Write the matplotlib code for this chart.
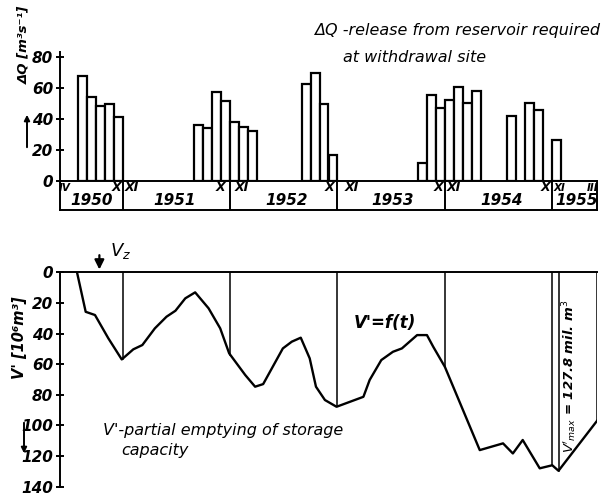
import matplotlib
matplotlib.use('Agg')
import matplotlib.pyplot as plt
import numpy as np

# month index t: 0 = start of April 1950 (one unit = one month)
bar_t = [2, 3, 4, 5, 6,
         15, 16, 17, 18, 19, 20, 21,
         27, 28, 29, 30,
         40, 41, 42, 43, 44, 45, 46,
         50, 52, 53, 55]
bar_q = [67.7, 54.1, 48.3, 49.4, 41.4,
         36.2, 34.3, 57.6, 51.7, 38.0, 34.5, 32.1,
         62.4, 69.5, 49.6, 16.8,
         11.6, 55.4, 46.8, 52.2, 60.4, 50.0, 58.2,
         42.0, 50.0, 45.7, 26.3]

curve_t = [1.9, 2.87, 3.91, 5.4, 6.9, 8.19, 9.2, 10.6, 11.9, 12.9, 14.0, 15.1,
           16.6, 17.9, 18.9, 20.7, 21.8, 22.7, 24.9, 25.9, 26.9, 27.9, 28.6,
           29.6, 30.9, 33.9, 34.6, 35.9, 37.2, 38.2, 39.9, 41.0, 41.7, 43.0,
           46.9, 49.5, 50.6, 51.7, 53.6, 55.0, 55.7, 60.0]
curve_v = [0, 25.8, 27.9, 43.1, 56.9, 50.3, 47.5, 36.6, 29.0, 25.1, 17.0, 13.1,
           23.5, 36.6, 52.9, 67.1, 74.7, 73.0, 49.7, 45.3, 42.7, 56.2, 74.7,
           83.4, 87.8, 81.3, 70.3, 57.3, 51.9, 49.7, 41.0, 41.0, 48.6, 61.7,
           116.1, 111.7, 118.3, 109.5, 128.0, 126.0, 129.6, 97.0]

year_bounds = [7, 19, 31, 43, 55]
t_end = 60
t_vmax = 55.7
year_labels = ['1950', '1951', '1952', '1953', '1954', '1955']
year_label_t = [3.5, 12.85, 25.3, 37.2, 49.3, 57.7]
month_labels = ['IV', 'X', 'XI', 'X', 'XI', 'X', 'XI', 'X', 'XI', 'X', 'XI', 'III']
month_label_t = [0.55, 6.3, 8.0, 17.9, 20.3, 30.1, 32.6, 42.3, 44.0, 54.2, 55.8, 59.5]
q_ticks = [0, 20, 40, 60, 80]
v_ticks = [0, 20, 40, 60, 80, 100, 120, 140]

W, H = 607, 495
fig = plt.figure(figsize=(W / 100, H / 100), dpi=100)

def fx(px):
    return px / W

def fy(py):
    return 1 - py / H

LW = 1.4
tick_font = dict(family='DejaVu Sans', style='italic', weight='bold', size=11)
text_font = dict(family='DejaVu Sans', style='italic', size=11.5)

left = fx(60)
width = fx(597) - fx(60)

# ---------- top: release bars ----------
ax1 = fig.add_axes([left, fy(180.7), width, (180.7 - 51.7) / H])
ax1.bar(bar_t, bar_q, width=1.0, align='edge', facecolor='white',
        edgecolor='black', linewidth=1.6)
ax1.set_xlim(0, t_end)
ax1.set_ylim(0, 83.4)
for s in ['top', 'right', 'bottom']:
    ax1.spines[s].set_visible(False)
ax1.spines['left'].set_linewidth(LW)
ax1.set_xticks([])
ax1.set_yticks(q_ticks)
ax1.set_yticklabels([str(v) for v in q_ticks], fontdict=tick_font)
ax1.tick_params(axis='y', direction='inout', length=6, width=LW, pad=2)

# ---------- year strip ----------
ax2 = fig.add_axes([left, fy(210), width, (210 - 180.7) / H])
ax2.set_xlim(0, t_end)
ax2.set_ylim(0, 1)
ax2.set_xticks([])
ax2.set_yticks([])
for s in ax2.spines.values():
    s.set_linewidth(LW)
for b in year_bounds:
    ax2.plot([b, b], [0, 1], color='black', lw=LW)
for lab, t in zip(year_labels, year_label_t):
    ax2.text(t, 0.33, lab, ha='center', va='center', **tick_font)
for i, (lab, t) in enumerate(zip(month_labels, month_label_t)):
    small = lab in ('IV', 'III') or i == 10
    ax2.text(t, 0.76, lab, ha='center', va='center', family='DejaVu Sans',
             style='italic', weight='bold', size=7.5 if small else 9)

# ---------- bottom: partial emptying curve ----------
ax3 = fig.add_axes([left, fy(486.7), width, (486.7 - 272.3) / H])
ax3.plot(curve_t, curve_v, color='black', lw=1.7)
ax3.set_xlim(0, t_end)
ax3.set_ylim(140, 0)
for s in ['right', 'bottom']:
    ax3.spines[s].set_visible(False)
ax3.spines['left'].set_linewidth(LW)
ax3.spines['top'].set_linewidth(LW)
ax3.set_xticks([])
ax3.set_yticks(v_ticks)
ax3.set_yticklabels([str(v) for v in v_ticks], fontdict=tick_font)
ax3.tick_params(axis='y', direction='inout', length=6, width=LW, pad=2)
for b in year_bounds + [t_end, t_vmax]:
    ax3.plot([b, b], [0, np.interp(b, curve_t, curve_v)], color='black', lw=1.1)

ax3.annotate('', xy=(4.4, 0), xytext=(4.4, -13), annotation_clip=False,
             arrowprops=dict(arrowstyle='-|>', color='black', lw=1.6,
                             mutation_scale=14))
ax3.text(5.6, -14, r'$V_z$', ha='left', va='center', size=13, weight='bold')
ax3.text(36.3, 33.2, "V'=f(t)", ha='center', va='center',
         family='DejaVu Sans', style='italic', weight='bold', size=12)
ax3.text(4.8, 103, "V'-partial emptying of storage", ha='left', va='center',
         **text_font)
ax3.text(6.8, 116.5, 'capacity', ha='left', va='center', **text_font)
ax3.text(57.0, 68, r"$V'_{max}$ = 127.8 mil. m$^3$", rotation=90,
         ha='center', va='center', family='DejaVu Sans', style='italic',
         weight='bold', size=9.5)

# ---------- figure-level labels ----------
fig.text(fx(600), fy(31), 'ΔQ -release from reservoir required', ha='right',
         va='center', **text_font)
fig.text(fx(415), fy(57), 'at withdrawal site', ha='center', va='center',
         **text_font)
fig.text(fx(24), fy(45), 'ΔQ [m³s⁻¹]', rotation=90, ha='center', va='center',
         family='DejaVu Sans', style='italic', weight='bold', size=9.5)
fig.text(fx(20), fy(338), "V' [10⁶m³]", rotation=90, ha='center', va='center',
         family='DejaVu Sans', style='italic', weight='bold', size=10.5)
fig.add_artist(matplotlib.patches.FancyArrowPatch(
    (fx(27), fy(150)), (fx(27), fy(112)), transform=fig.transFigure,
    arrowstyle='-|>', mutation_scale=8, color='black', lw=1.4))
fig.add_artist(matplotlib.patches.FancyArrowPatch(
    (fx(24), fy(420)), (fx(24), fy(456)), transform=fig.transFigure,
    arrowstyle='-|>', mutation_scale=8, color='black', lw=1.4))

fig.savefig('out.png', dpi=100, facecolor='white')
